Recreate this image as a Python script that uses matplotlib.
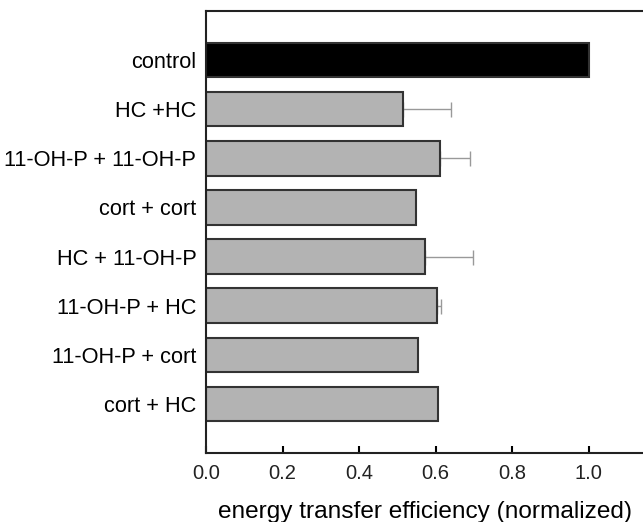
import matplotlib
matplotlib.use("Agg")
import matplotlib.pyplot as plt
import numpy as np

plt.rcParams['font.family'] = ['Liberation Sans', 'DejaVu Sans']

# top to bottom
labels = ['control', 'HC +HC', '11-OH-P + 11-OH-P', 'cort + cort',
          'HC + 11-OH-P', '11-OH-P + HC', '11-OH-P + cort', 'cort + HC']
values = [1.0, 0.515, 0.612, 0.549, 0.573, 0.604, 0.554, 0.607]
errors = [0.0, 0.125, 0.078, 0.0, 0.125, 0.010, 0.0, 0.0]
colors = ['black'] + ['#b3b3b3'] * 7

fig = plt.figure(figsize=(6.43, 5.22), dpi=100)
ax = fig.add_axes([0.3204, 0.1322, 0.6796, 0.8467])

y = np.arange(len(labels))[::-1]
ax.barh(y, values, height=0.7, color=colors, edgecolor='#333333', linewidth=1.5, zorder=2)
has_err = [e > 0 for e in errors]
ax.errorbar(np.array(values)[has_err], y[has_err],
            xerr=[np.zeros(sum(has_err)), np.array(errors)[has_err]],
            fmt='none', ecolor='#999999', elinewidth=1, capsize=5.4, capthick=1, zorder=1)

ax.set_xlim(0, 1.142)
ax.set_ylim(-1, 8)
ax.set_yticks(y)
ax.set_yticklabels(labels, fontsize=15.7)
ax.tick_params(axis='y', length=0, pad=7)
ax.set_xticks([0.0, 0.2, 0.4, 0.6, 0.8, 1.0])
ax.set_xticklabels(['0.0', '0.2', '0.4', '0.6', '0.8', '1.0'], fontsize=14.5)
ax.tick_params(axis='x', direction='in', length=5, width=1.5, pad=8, labelcolor='#222222')
ax.set_xlabel('energy transfer efficiency (normalized)', fontsize=17.6, labelpad=13)
ax.spines['right'].set_visible(False)
for s in ['top', 'bottom', 'left']:
    ax.spines[s].set_linewidth(1.5)
    ax.spines[s].set_color('#222222')

fig.savefig('out.png', dpi=100)
